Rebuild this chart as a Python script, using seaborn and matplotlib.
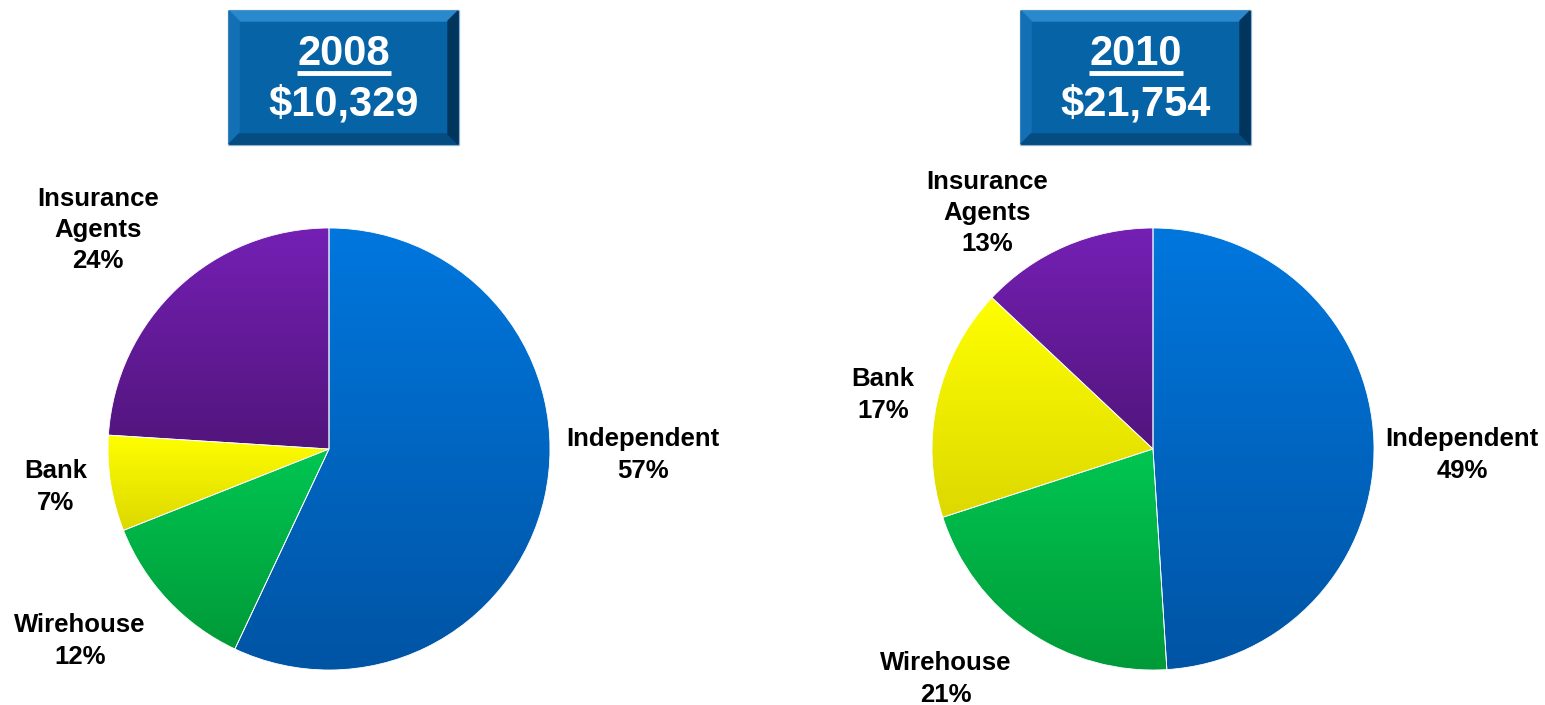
import numpy as np
import seaborn as sns
import matplotlib.pyplot as plt
from matplotlib.patches import Rectangle, Polygon
from matplotlib.colors import LinearSegmentedColormap

# data
years = ['2008', '2010']
totals = ['$10,329', '$21,754']
channels = ['Independent', 'Wirehouse', 'Bank', 'Insurance\nAgents']
share_2008 = [57, 12, 7, 24]
share_2010 = [49, 21, 17, 13]
shares = [share_2008, share_2010]

# light (top) -> dark (bottom) gradient per channel
grad_colors = [('#0077DE', '#0054A4'),
               ('#00C652', '#009A38'),
               ('#FFFF00', '#DDD800'),
               ('#7420B4', '#52157C')]

W, H = 1545, 705
sns.set_theme(style='white')
plt.rcParams['font.family'] = ['Liberation Sans', 'DejaVu Sans']

fig = plt.figure(figsize=(W / 100, H / 100), dpi=100)
ax = fig.add_axes([0, 0, 1, 1])

pie_centers = [(329, H - 449), (1153, H - 449)]
radius = 221
box_x = [229, 1021]
# label positions (pixel coords, top origin) for each chart
label_pos = [
    [(643, 455), (80, 641), (56, 487), (98, 230)],
    [(1462, 455), (946, 679), (883, 395), (987, 213)],
]


def bevel_box(x0, y0, w, h):
    b = 10
    ax.add_patch(Rectangle((x0 - 1, y0 - 1), w + 2, h + 2, color='#B8C4D0', zorder=1))
    ax.add_patch(Rectangle((x0, y0), w, h, color='#0563A6', zorder=2))
    x1, y1 = x0 + w, y0 + h
    # top, left, bottom, right bevels
    ax.add_patch(Polygon([(x0, y1), (x1, y1), (x1 - b, y1 - b), (x0 + b, y1 - b)],
                         color='#2A88CC', zorder=3))
    ax.add_patch(Polygon([(x0, y0), (x0, y1), (x0 + b, y1 - b), (x0 + b, y0 + b)],
                         color='#1470B4', zorder=3))
    ax.add_patch(Polygon([(x0, y0), (x1, y0), (x1 - b, y0 + b), (x0 + b, y0 + b)],
                         color='#044C82', zorder=3))
    ax.add_patch(Polygon([(x1, y0), (x1, y1), (x1 - b, y1 - b), (x1 - b, y0 + b)],
                         color='#02355C', zorder=3))


for i, (year, total, vals) in enumerate(zip(years, totals, shares)):
    cx, cy = pie_centers[i]
    wedges, _ = ax.pie(vals, center=(cx, cy), radius=radius, startangle=90,
                       counterclock=False, colors=[c[0] for c in grad_colors],
                       wedgeprops=dict(edgecolor='white', linewidth=0.6),
                       frame=True)
    ax.set_xlim(0, W)
    ax.set_ylim(0, H)

    # vertical gradient fill clipped to each wedge
    inv = ax.transData.inverted()
    for wedge, (top, bot) in zip(wedges, grad_colors):
        ext = wedge.get_window_extent()
        (xa, ya), (xb, yb) = inv.transform([(ext.x0, ext.y0), (ext.x1, ext.y1)])
        cmap = LinearSegmentedColormap.from_list('g', [bot, top])
        grad = np.linspace(0, 1, 256).reshape(-1, 1)
        im = ax.imshow(grad, cmap=cmap, origin='lower', aspect='auto',
                       extent=(xa, xb, ya, yb), zorder=wedge.get_zorder())
        im.set_clip_path(wedge)
        wedge.set_facecolor('none')
        wedge.set_zorder(wedge.get_zorder() + 0.5)

    for name, v, (lx, ly) in zip(channels, vals, label_pos[i]):
        ax.text(lx, H - ly, f'{name}\n{v}%', ha='center', va='center',
                fontsize=18.5, fontweight='bold', color='black',
                linespacing=1.38)

    # title box
    bx = box_x[i]
    bevel_box(bx, H - 144, 229, 133)
    tx = bx + 114.5
    ax.text(tx, H - 54, year, ha='center', va='center', fontsize=30,
            fontweight='bold', color='white', zorder=5)
    ax.plot([tx - 47, tx + 47], [H - 73, H - 73], color='white', lw=3.5,
            solid_capstyle='butt', zorder=5)
    ax.text(tx, H - 105, total, ha='center', va='center', fontsize=30,
            fontweight='bold', color='white', zorder=5)

ax.set_aspect('auto')
ax.set_xlim(0, W)
ax.set_ylim(0, H)
ax.axis('off')
fig.savefig('out.png', dpi=100)
